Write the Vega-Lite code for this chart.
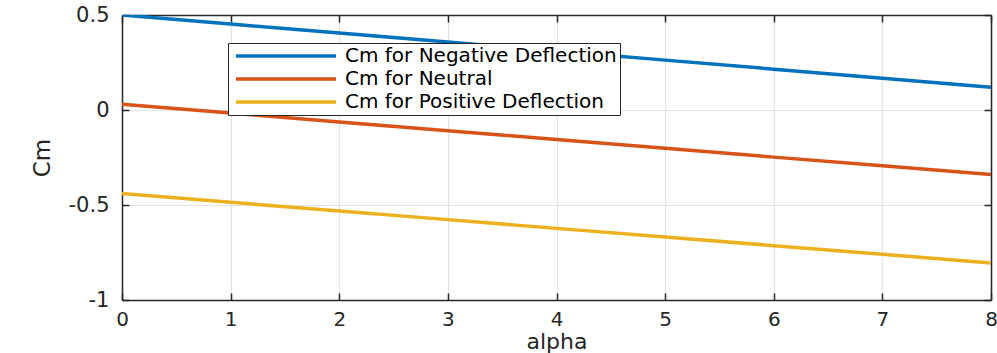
{
  "$schema": "https://vega.github.io/schema/vega-lite/v6.json",
  "autosize": {"type": "none"},
  "width": 869,
  "height": 285,
  "padding": {"left": 122, "top": 15, "right": 6, "bottom": 53},
  "background": "white",
  "config": {
    "font": "DejaVu Sans",
    "view": {"stroke": null},
    "axis": {"domainColor": "#262626", "domainWidth": 1.5, "tickColor": "#262626", "tickWidth": 1.5, "gridColor": "#e3e3e3", "gridWidth": 1.2, "labelColor": "#262626", "titleColor": "#262626", "labelFont": "DejaVu Sans", "titleFont": "DejaVu Sans", "titleFontWeight": "normal"}
  },
  "data": {"values": [
    {"alpha": 0, "Cm": 0.5, "series": "Cm for Negative Deflection"},
    {"alpha": 1, "Cm": 0.4525, "series": "Cm for Negative Deflection"},
    {"alpha": 2, "Cm": 0.405, "series": "Cm for Negative Deflection"},
    {"alpha": 3, "Cm": 0.3575, "series": "Cm for Negative Deflection"},
    {"alpha": 4, "Cm": 0.31, "series": "Cm for Negative Deflection"},
    {"alpha": 5, "Cm": 0.2625, "series": "Cm for Negative Deflection"},
    {"alpha": 6, "Cm": 0.215, "series": "Cm for Negative Deflection"},
    {"alpha": 7, "Cm": 0.1675, "series": "Cm for Negative Deflection"},
    {"alpha": 8, "Cm": 0.12, "series": "Cm for Negative Deflection"},
    {"alpha": 0, "Cm": 0.03, "series": "Cm for Neutral"},
    {"alpha": 1, "Cm": -0.016, "series": "Cm for Neutral"},
    {"alpha": 2, "Cm": -0.063, "series": "Cm for Neutral"},
    {"alpha": 3, "Cm": -0.109, "series": "Cm for Neutral"},
    {"alpha": 4, "Cm": -0.155, "series": "Cm for Neutral"},
    {"alpha": 5, "Cm": -0.201, "series": "Cm for Neutral"},
    {"alpha": 6, "Cm": -0.248, "series": "Cm for Neutral"},
    {"alpha": 7, "Cm": -0.294, "series": "Cm for Neutral"},
    {"alpha": 8, "Cm": -0.34, "series": "Cm for Neutral"},
    {"alpha": 0, "Cm": -0.44, "series": "Cm for Positive Deflection"},
    {"alpha": 1, "Cm": -0.486, "series": "Cm for Positive Deflection"},
    {"alpha": 2, "Cm": -0.531, "series": "Cm for Positive Deflection"},
    {"alpha": 3, "Cm": -0.577, "series": "Cm for Positive Deflection"},
    {"alpha": 4, "Cm": -0.623, "series": "Cm for Positive Deflection"},
    {"alpha": 5, "Cm": -0.668, "series": "Cm for Positive Deflection"},
    {"alpha": 6, "Cm": -0.714, "series": "Cm for Positive Deflection"},
    {"alpha": 7, "Cm": -0.759, "series": "Cm for Positive Deflection"},
    {"alpha": 8, "Cm": -0.805, "series": "Cm for Positive Deflection"}
  ]},
  "layer": [
    {
      "mark": {"type": "line", "strokeWidth": 3.5, "clip": true},
      "encoding": {
        "x": {"field": "alpha", "type": "quantitative", "scale": {"domain": [0, 8], "nice": false, "zero": false},
              "axis": {"orient": "bottom", "title": "alpha", "values": [0,1,2,3,4,5,6,7,8], "format": "d", "labelFontSize": 20, "titleFontSize": 22, "tickSize": -7, "labelPadding": 16, "labelFlush": false, "titlePadding": 2, "grid": true}},
        "y": {"field": "Cm", "type": "quantitative", "scale": {"domain": [-1, 0.5], "nice": false, "zero": false},
              "axis": {"orient": "left", "title": "Cm", "values": [-1, -0.5, 0, 0.5], "labelExpr": "datum.value == 0 ? '0' : datum.value == -1 ? '-1' : datum.value == -0.5 ? '-0.5' : '0.5'", "labelFontSize": 21, "titleFontSize": 23, "tickSize": -7, "labelPadding": 20, "labelFlush": false, "titlePadding": 14, "grid": true}},
        "color": {"field": "series", "type": "nominal",
                  "scale": {"domain": ["Cm for Negative Deflection", "Cm for Neutral", "Cm for Positive Deflection"], "range": ["#0072BD", "#D95319", "#EDB120"]},
                  "legend": {"title": null, "orient": "none", "legendX": 106, "legendY": 28, "symbolType": "M-10,0H10", "symbolSize": 100, "symbolStrokeWidth": 3.5, "symbolOffset": 45, "labelOffset": 49, "labelLimit": 600, "labelFontSize": 20, "labelFont": "DejaVu Sans", "labelColor": "#000000", "strokeColor": "#262626", "fillColor": "white", "padding": 3, "rowPadding": 3}}
      }
    },
    {
      "mark": {"type": "line", "opacity": 0},
      "encoding": {
        "x": {"field": "alpha", "type": "quantitative", "axis": {"orient": "top", "title": null, "labels": false, "values": [0,1,2,3,4,5,6,7,8], "tickSize": -7, "grid": false}},
        "y": {"field": "Cm", "type": "quantitative", "axis": {"orient": "right", "title": null, "labels": false, "values": [-1, -0.5, 0, 0.5], "tickSize": -7, "grid": false}},
        "detail": {"field": "series"}
      }
    }
  ],
  "resolve": {"axis": {"x": "independent", "y": "independent"}}
}
